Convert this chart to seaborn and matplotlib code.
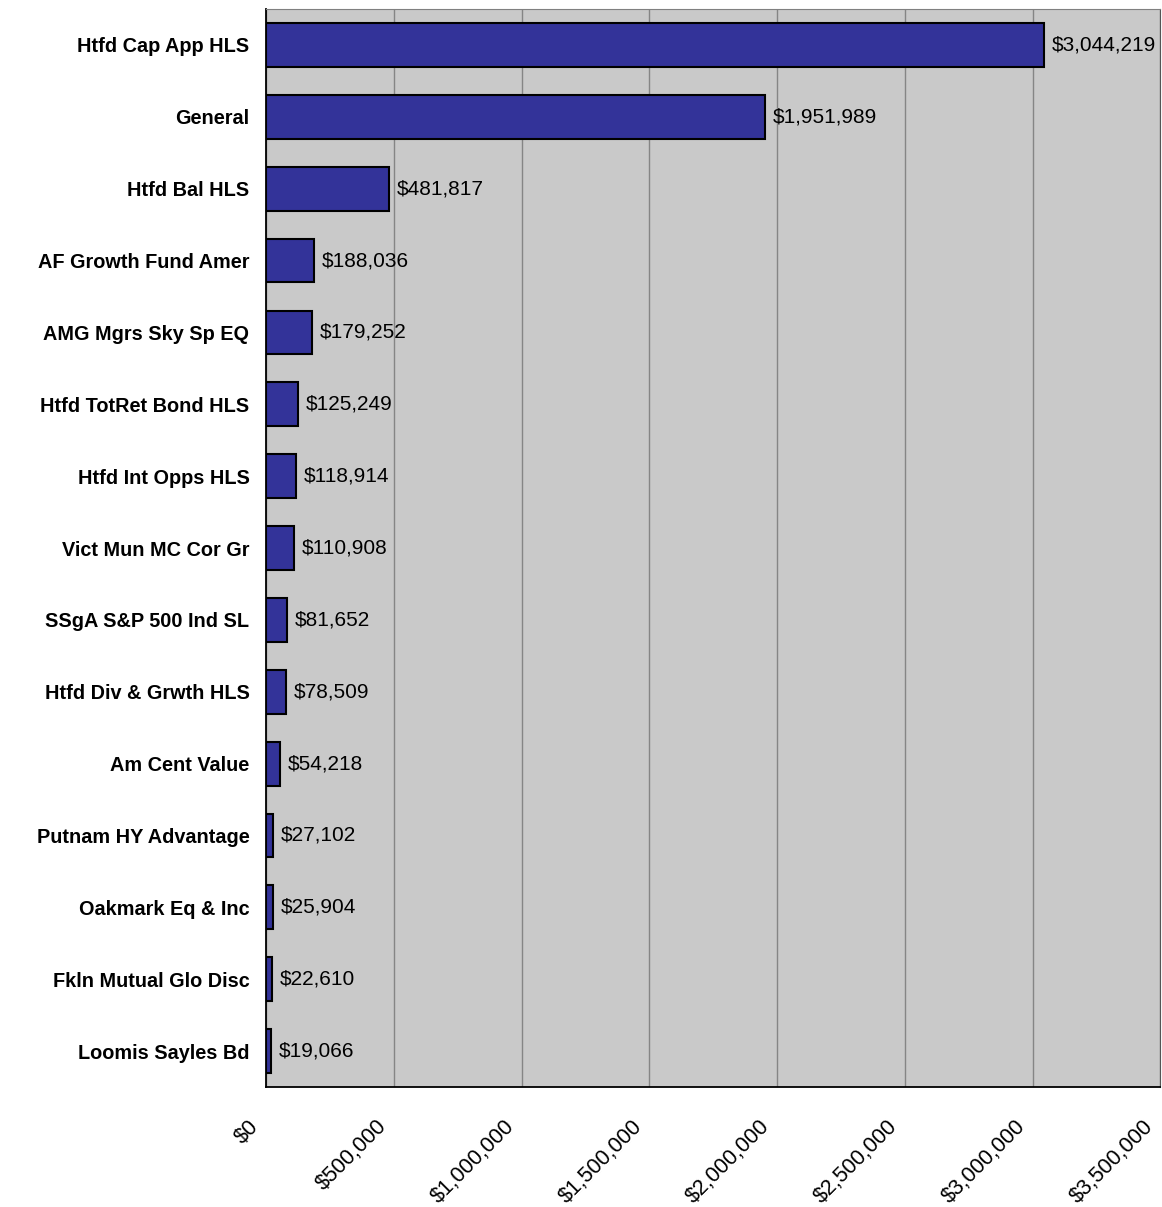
import matplotlib
matplotlib.use("Agg")
import matplotlib.pyplot as plt
import matplotlib.transforms as mtransforms
import seaborn as sns
import pandas as pd

funds = ["Htfd Cap App HLS", "General", "Htfd Bal HLS", "AF Growth Fund Amer",
         "AMG Mgrs Sky Sp EQ", "Htfd TotRet Bond HLS", "Htfd Int Opps HLS",
         "Vict Mun MC Cor Gr", "SSgA S&P 500 Ind SL", "Htfd Div & Grwth HLS",
         "Am Cent Value", "Putnam HY Advantage", "Oakmark Eq & Inc",
         "Fkln Mutual Glo Disc", "Loomis Sayles Bd"]
values = [3044219, 1951989, 481817, 188036, 179252, 125249, 118914, 110908,
          81652, 78509, 54218, 27102, 25904, 22610, 19066]
x_ticks = [0, 500000, 1000000, 1500000, 2000000, 2500000, 3000000, 3500000]

df = pd.DataFrame({"fund": funds, "value": values})

sns.set_style("white")
plt.rcParams['font.family'] = ['Liberation Sans', 'DejaVu Sans']
plt.rcParams['text.color'] = 'black'
plt.rcParams['xtick.color'] = 'black'
plt.rcParams['ytick.color'] = 'black'

fig = plt.figure(figsize=(11.62, 12.07), dpi=100)
ax = fig.add_axes([0.229, 0.0994, 0.7695, 0.8931])
ax.set_facecolor('#c9c9c9')

sns.barplot(data=df, x="value", y="fund", orient="h", color="#333399",
            saturation=1, width=0.61, edgecolor="black", linewidth=1.5, ax=ax, zorder=3)

# value labels
for i, v in enumerate(values):
    ax.text(v + 30000, i, f"${v:,}", va="center", ha="left", fontsize=15, zorder=4)

ax.set_xlim(0, 3500000)
ax.set_ylim(len(funds) - 0.5, -0.5)
ax.set_xticks(x_ticks)
ax.set_yticks(range(len(funds)))
ax.set_yticklabels(funds, fontsize=14.3, fontweight="bold")
ax.tick_params(axis="y", length=0, pad=12)
# small tick marks between categories
ax.set_yticks([i - 0.5 for i in range(len(funds) + 1)], minor=True)
ax.tick_params(axis="y", which="minor", length=5, direction="out", color="black")
ax.tick_params(axis="x", length=5, direction="out", color="black", pad=16)

ax.grid(axis="x", color="#858585", linewidth=1, zorder=1)
ax.set_axisbelow(True)
ax.set_xlabel("")
ax.set_ylabel("")

for side in ["left", "bottom"]:
    ax.spines[side].set_color("black")
    ax.spines[side].set_linewidth(1.3)
ax.spines["top"].set_color("#808080")
ax.spines["right"].set_color("#555555")

# rotated x labels, nudged left of their ticks like the original
ax.set_xticklabels([f"${t:,}" for t in x_ticks], rotation=45, ha="right",
                   va="top", rotation_mode="anchor", fontsize=15.5)
offset = mtransforms.ScaledTranslation(-18 / 100, 0, fig.dpi_scale_trans)
for lbl in ax.get_xticklabels():
    lbl.set_transform(lbl.get_transform() + offset)

fig.savefig("out.png", dpi=100)
